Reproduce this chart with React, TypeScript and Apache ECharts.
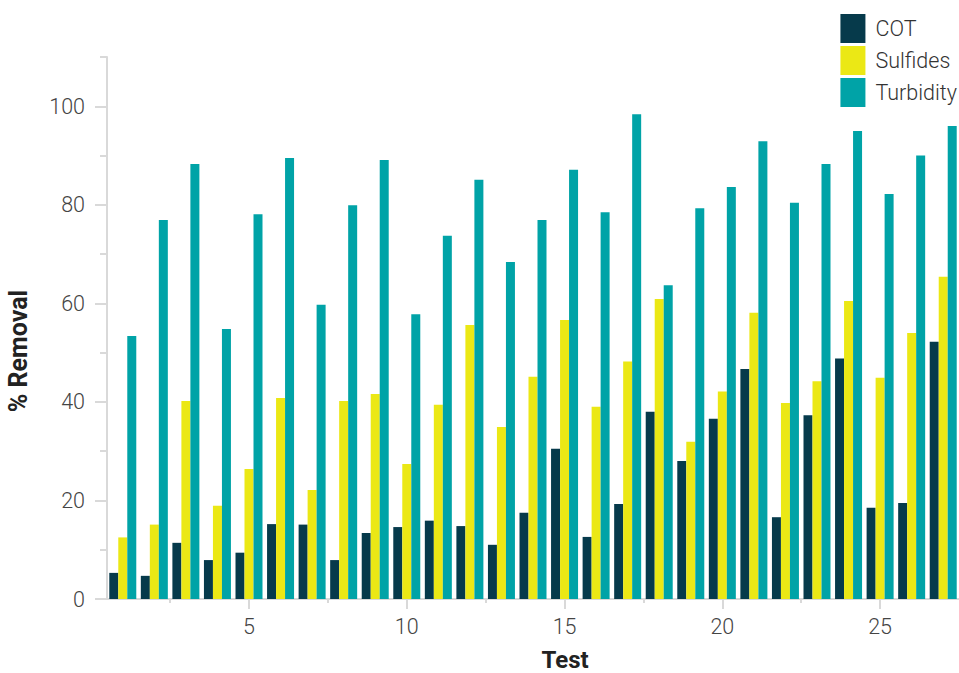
import React, { useEffect, useRef } from "react";
import * as echarts from "echarts";

const tests = [1, 2, 3, 4, 5, 6, 7, 8, 9, 10, 11, 12, 13, 14, 15, 16, 17, 18, 19, 20, 21, 22, 23, 24, 25, 26, 27];
const cot = [5.3, 4.7, 11.4, 7.9, 9.4, 15.2, 15.1, 7.9, 13.4, 14.6, 15.9, 14.8, 11.0, 17.5, 30.5, 12.6, 19.3, 38.0, 28.0, 36.6, 46.7, 16.6, 37.3, 48.8, 18.5, 19.5, 52.2];
const sulfides = [12.5, 15.1, 40.2, 18.9, 26.4, 40.8, 22.1, 40.2, 41.6, 27.4, 39.4, 55.6, 34.9, 45.1, 56.6, 39.0, 48.2, 60.9, 31.9, 42.1, 58.1, 39.8, 44.2, 60.5, 44.9, 54.0, 65.4];
const turbidity = [53.4, 76.9, 88.3, 54.8, 78.1, 89.5, 59.7, 79.9, 89.1, 57.8, 73.7, 85.1, 68.4, 76.9, 87.1, 78.5, 98.4, 63.7, 79.3, 83.6, 92.9, 80.4, 88.3, 95.0, 82.2, 90.0, 96.0];

const xMajorTicks = [5, 10, 15, 20, 25];
const xMinorTicks = [2.5, 7.5, 12.5, 17.5, 22.5];
const yMajorTicks = [0, 20, 40, 60, 80, 100];
const yMinorTicks = [10, 30, 50, 70, 90, 110];

const COLORS = { cot: "#063a4b", sulf: "#ebe815", turb: "#00a3a7" };
const AXIS_COLOR = "#d9d9d9";
const FONT = "Roboto";

export default function App() {
  const ref = useRef<HTMLDivElement>(null);

  useEffect(() => {
    if (!ref.current) return;
    const chart = echarts.init(ref.current, undefined, { renderer: "svg" });
    const pair = (arr: number[]) => tests.map((t, i) => [t, arr[i]]);
    const grid = { left: 107, right: 0, top: 57, bottom: 74, containLabel: false, outerBoundsMode: "none" };

    chart.setOption({
      animation: false,
      grid: [grid, { ...grid }],
      legend: {
        orient: "vertical",
        right: 2,
        top: 14,
        padding: 0,
        itemWidth: 25,
        itemHeight: 29,
        itemGap: 3,
        icon: "rect",
        textStyle: { fontFamily: FONT, fontSize: 21.5, fontWeight: 300, color: "#333", padding: [0, 0, 0, 5] },
        data: ["COT", "Sulfides", "Turbidity"],
      },
      xAxis: [
        {
          type: "value",
          gridIndex: 0,
          min: 0.5,
          max: 27.5,
          name: "Test",
          nameLocation: "middle",
          nameGap: 51,
          nameTextStyle: { fontFamily: FONT, fontSize: 24, lineHeight: 20, fontWeight: "bold", color: "#222", padding: [0, 0, 0, 64] },
          axisLine: { show: true, lineStyle: { color: AXIS_COLOR, width: 2 } },
          axisTick: { show: true, customValues: xMajorTicks, length: 10, lineStyle: { color: AXIS_COLOR, width: 2 } },
          axisLabel: { customValues: xMajorTicks, fontFamily: FONT, fontSize: 21.5, fontWeight: 300, color: "#444", margin: 16 },
          splitLine: { show: false },
        },
        {
          type: "value",
          gridIndex: 1,
          min: 0.5,
          max: 27.5,
          axisLine: { show: false },
          axisTick: { show: true, customValues: xMinorTicks, length: 4, lineStyle: { color: AXIS_COLOR, width: 2 } },
          axisLabel: { show: false },
          splitLine: { show: false },
        },
      ],
      yAxis: [
        {
          type: "value",
          gridIndex: 0,
          min: 0,
          max: 110,
          name: "% Removal",
          nameLocation: "middle",
          nameGap: 76,
          nameTextStyle: { fontFamily: FONT, fontSize: 25, fontWeight: "bold", color: "#222", padding: [0, 46, 0, 0] },
          axisLine: { show: true, lineStyle: { color: AXIS_COLOR, width: 2 } },
          axisTick: { show: true, customValues: yMajorTicks, length: 12, lineStyle: { color: AXIS_COLOR, width: 2 } },
          axisLabel: { customValues: yMajorTicks, fontFamily: FONT, fontSize: 21.5, fontWeight: 300, color: "#444", margin: 22 },
          splitLine: { show: false },
        },
        {
          type: "value",
          gridIndex: 1,
          min: 0,
          max: 110,
          axisLine: { show: false },
          axisTick: { show: true, customValues: yMinorTicks, length: 7, lineStyle: { color: AXIS_COLOR, width: 2 } },
          axisLabel: { show: false },
          splitLine: { show: false },
        },
      ],
      series: [
        { name: "COT", type: "bar", xAxisIndex: 0, yAxisIndex: 0, barWidth: 9, barGap: "0%", itemStyle: { color: COLORS.cot }, data: pair(cot) },
        { name: "Sulfides", type: "bar", xAxisIndex: 0, yAxisIndex: 0, barWidth: 9, barGap: "0%", itemStyle: { color: COLORS.sulf }, data: pair(sulfides) },
        { name: "Turbidity", type: "bar", xAxisIndex: 0, yAxisIndex: 0, barWidth: 9, barGap: "0%", itemStyle: { color: COLORS.turb }, data: pair(turbidity) },
      ],
    });

    return () => chart.dispose();
  }, []);

  return <div ref={ref} style={{ position: "fixed", left: 0, top: 0, width: 959, height: 673, background: "#fff" }} />;
}
